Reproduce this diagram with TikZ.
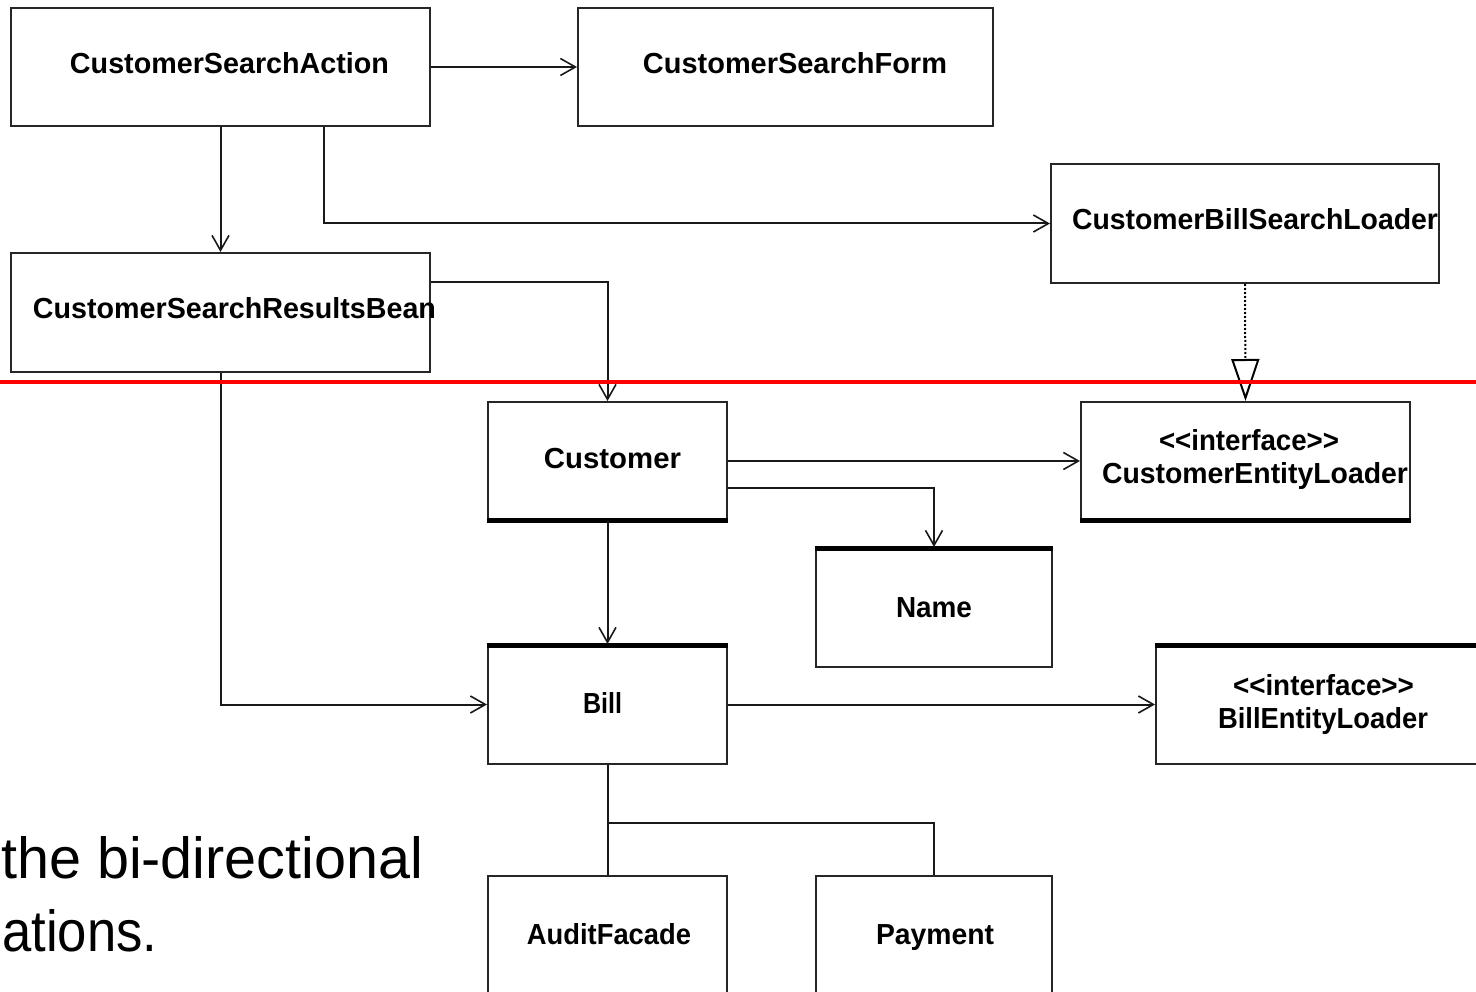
\documentclass[tikz,border=0pt]{standalone}
\usepackage{fontspec}
\setmainfont{Liberation Sans}
\usetikzlibrary{arrows.meta,calc}
\newcommand{\uml}[2]{\resizebox{#1pt}{\height}{\bfseries #2}}
\begin{document}
\begin{tikzpicture}[x=1pt,y=-1pt,
  box/.style={draw=black!85, line width=2pt, inner sep=0pt},
  lbl/.style={anchor=base, inner sep=0pt, font=\fontsize{29}{32}\selectfont},
  conn/.style={line width=2pt, draw=black!90},
  arr/.style={conn, -{Straight Barb[length=15pt,width=17pt,line width=1.6pt]}},
  realize/.style={line width=2pt, dotted, -{Triangle[open,length=42pt,width=28pt,line width=2pt,fill=white]}},
  thickedge/.style={line width=5pt, draw=black},
  note/.style={anchor=base west, inner sep=0pt, font=\fontsize{58}{66}\selectfont}]
\useasboundingbox (0,0) rectangle (1476,992);
% boxes
\node[box, minimum width=419pt, minimum height=118pt] (csa)  at (220.5,67) {};
\node[box, minimum width=415pt, minimum height=118pt] (csf)  at (785.5,67) {};
\node[box, minimum width=388pt, minimum height=119pt] (cbsl) at (1245,223.5) {};
\node[box, minimum width=419pt, minimum height=119pt] (csrb) at (220.5,312.5) {};
\node[box, minimum width=239pt, minimum height=118pt] (cust) at (607.5,461) {};
\node[box, minimum width=329pt, minimum height=118pt] (cel)  at (1245.5,461) {};
\node[box, minimum width=236pt, minimum height=119pt] (name) at (934,607.5) {};
\node[box, minimum width=239pt, minimum height=119pt] (bill) at (607.5,704.5) {};
\node[box, minimum width=330pt, minimum height=119pt] (bel)  at (1321,704.5) {};
\node[box, minimum width=239pt, minimum height=130pt] (audit) at (607.5,941) {};
\node[box, minimum width=236pt, minimum height=130pt] (pay)  at (934,941) {};
% thick edges
\draw[thickedge] ($(cust.south west)+(0,-1)$) -- ($(cust.south east)+(0,-1)$);
\draw[thickedge] ($(cel.south west)+(0,-1)$) -- ($(cel.south east)+(0,-1)$);
\draw[thickedge] ($(name.north west)+(0,1)$) -- ($(name.north east)+(0,1)$);
\draw[thickedge] ($(bill.north west)+(0,1)$) -- ($(bill.north east)+(0,1)$);
\draw[thickedge] ($(bel.north west)+(0,1)$) -- ($(bel.north east)+(0,1)$);
% labels
\node[lbl] (tcsa)  at (229.5,74)  {\uml{319}{CustomerSearchAction}};
\node[lbl] (tcsf)  at (795,74)    {\uml{304}{CustomerSearchForm}};
\node[lbl] (tcbsl) at (1255,230)  {\uml{366}{CustomerBillSearchLoader}};
\node[lbl] (tcsrb) at (234.5,319) {\uml{403}{CustomerSearchResultsBean}};
\node[lbl] (tcust) at (612.5,468) {\uml{137}{Customer}};
\node[lbl] (tcel1) at (1249,450)  {\uml{180}{<{}<interface>{}>}};
\node[lbl] (tcel2) at (1255,483)  {\uml{306}{CustomerEntityLoader}};
\node[lbl] (tname) at (934,617)   {\uml{76}{Name}};
\node[lbl] (tbill) at (602.5,713) {\uml{39}{Bill}};
\node[lbl] (tbel1) at (1323.5,695) {\uml{181}{<{}<interface>{}>}};
\node[lbl] (tbel2) at (1323,728)  {\uml{210}{BillEntityLoader}};
\node[lbl] (taud)  at (609,944)   {\uml{164}{AuditFacade}};
\node[lbl] (tpay)  at (935,944)   {\uml{118}{Payment}};
% connectors
\draw[arr] (csa.east) -- (csf.west);
\draw[arr] (csa.south) -- (csrb.north);
\draw[arr] ($(csa.south west)+(314,0)$) |- (cbsl.west);
\draw[arr] ($(csrb.north east)+(0,30)$) -| (cust.north);
\draw[arr] (csrb.south) |- (bill.west);
\draw[realize] (cbsl.south) -- (cel.north);
\draw[arr] (cust.east) -- (cel.west);
\draw[arr] ($(cust.north east)+(0,87)$) -| (name.north);
\draw[arr] (cust.south) -- (bill.north);
\draw[arr] (bill.east) -- (bel.west);
\draw[conn] (bill.south) -- (audit.north);
\draw[conn] ($(bill.south)+(0,58)$) -| (pay.north);
% note text
\node[note] (n1) at (1,878) {\resizebox{422pt}{\height}{the bi-directional}};
\node[note] (n2) at (2,951) {\resizebox{155pt}{\height}{ations.}};
% red line
\coordinate (rl) at (0,382);
\coordinate (rr) at (1476,382);
\draw[red, line width=4pt] (rl) -- (rr);
\end{tikzpicture}
\end{document}
